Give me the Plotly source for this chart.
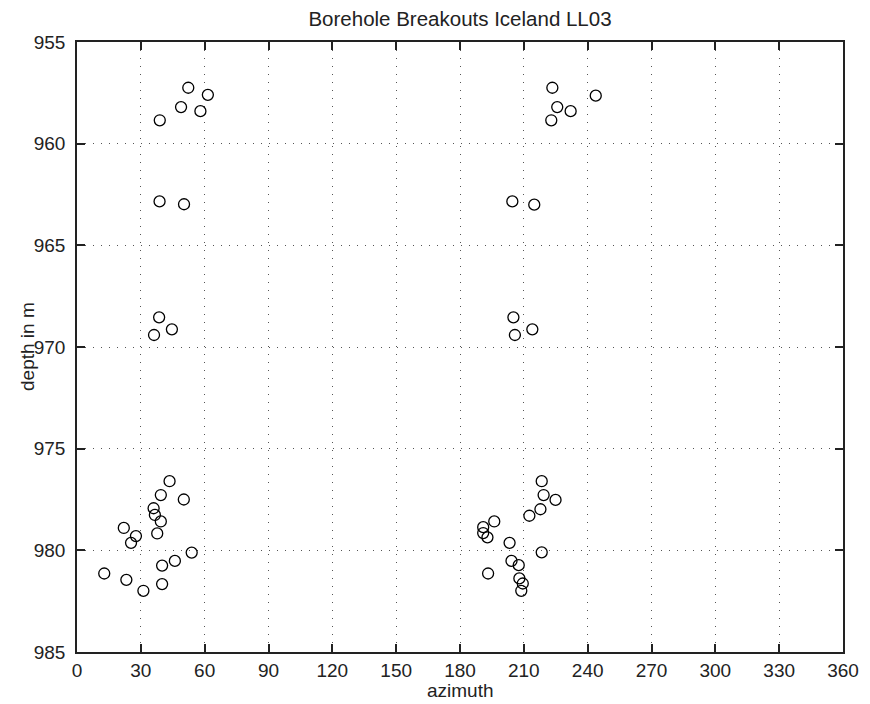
import plotly.graph_objects as go

# Azimuth (degrees) and depth (m) of borehole breakouts
azimuth = [
    52.3, 61.5, 48.9, 58.0, 38.9, 38.8, 50.3,
    223.4, 243.8, 225.7, 232.0, 222.9, 204.6, 214.9,
    38.6, 44.6, 36.2,
    205.1, 214.0, 205.8,
    43.5, 39.4, 50.2, 36.0, 36.6, 39.4, 22.0, 27.7, 25.4, 37.7,
    53.9, 46.0, 40.0, 12.8, 23.2, 40.0, 31.2,
    218.4, 219.3, 224.9, 217.8, 212.6, 196.1, 190.9, 190.9, 192.9, 203.3,
    218.4, 204.2, 207.6, 193.2, 207.9, 209.5, 208.8,
]
depth = [
    957.25, 957.6, 958.2, 958.4, 958.85, 962.84, 962.98,
    957.25, 957.64, 958.2, 958.4, 958.85, 962.84, 963.0,
    968.54, 969.13, 969.41,
    968.54, 969.13, 969.41,
    976.6, 977.28, 977.5, 977.93, 978.26, 978.58, 978.9, 979.3, 979.63, 979.17,
    980.11, 980.52, 980.75, 981.14, 981.45, 981.66, 981.99,
    976.6, 977.28, 977.52, 977.98, 978.3, 978.58, 978.86, 979.15, 979.36, 979.63,
    980.1, 980.52, 980.73, 981.14, 981.38, 981.63, 981.99,
]

x_ticks = list(range(0, 361, 30))
y_ticks = list(range(955, 986, 5))

fig = go.Figure()
fig.add_trace(go.Scatter(
    x=azimuth, y=depth, mode="markers",
    marker=dict(symbol="circle-open", size=11, color="black",
                line=dict(width=1.3, color="black")),
    showlegend=False,
))

FAM = "Liberation Sans, Arial, sans-serif"
font = dict(family=FAM, size=19, color="#222222")

axis_common = dict(
    showline=True, linecolor="#222222", linewidth=1.5, mirror="ticks",
    ticks="inside", ticklen=8, tickcolor="#222222", tickwidth=1.5,
    showgrid=True, gridcolor="#555555", gridwidth=1, griddash="1px,7px",
    zeroline=False, tickfont=font, automargin=False,
)

# page body adds an 8px offset; size the figure so the plot area lands at 77..843 x 42..652
W, H = 862, 696
fig.update_layout(
    width=W, height=H,
    paper_bgcolor="white", plot_bgcolor="white",
    margin=dict(l=69, r=27, t=34, b=52),
    font=font,
    title=dict(text="Borehole Breakouts Iceland LL03", x=0.5, xanchor="center",
               xref="paper", y=1 - 11 / H, yanchor="middle", yref="container",
               font=dict(family=FAM, size=20.5, color="#222222")),
    xaxis=dict(range=[0, 360], tickvals=x_ticks, ticktext=[str(v) for v in x_ticks],
               ticklabelstandoff=0, **axis_common),
    yaxis=dict(range=[985, 955], tickvals=y_ticks, ticktext=[str(v) for v in y_ticks],
               ticklabelstandoff=6, **axis_common),
    annotations=[
        dict(text="azimuth", xref="paper", yref="paper", x=0.5, y=0,
             xanchor="center", yanchor="middle", yshift=-38, showarrow=False,
             font=font),
        dict(text="depth in m", xref="paper", yref="paper", x=0, y=0.5,
             xanchor="center", yanchor="middle", xshift=-50, textangle=-90,
             showarrow=False, font=font),
    ],
)

fig.write_html("out.html")
